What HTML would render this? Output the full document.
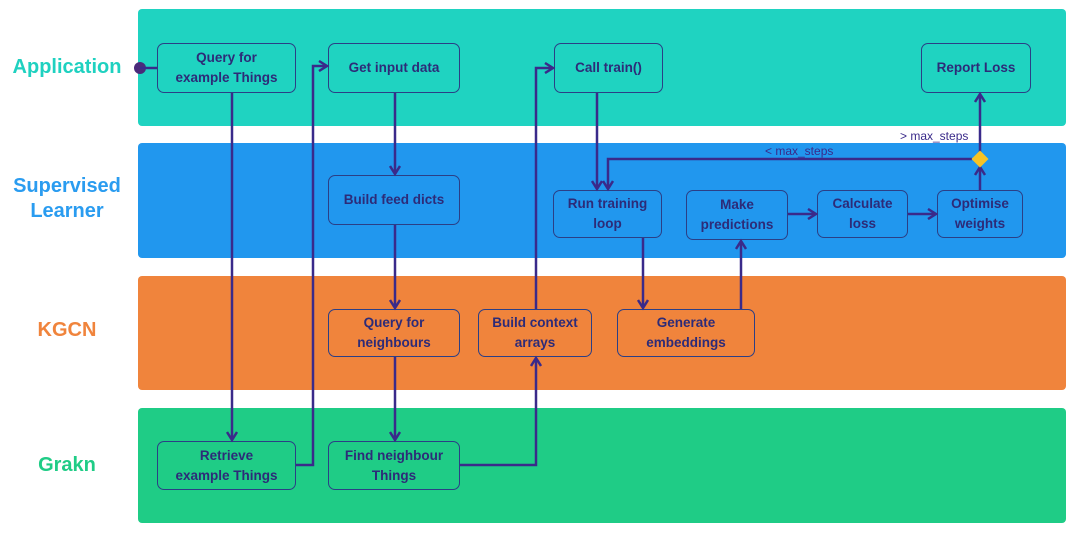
<!DOCTYPE html>
<html><head><style>
body{margin:0;width:1080px;height:536px;background:#fff;position:relative;overflow:hidden;font-family:"Liberation Sans",sans-serif}
.lane{position:absolute;left:138px;width:928px;border-radius:4px}
.lab{position:absolute;font-weight:bold;font-size:20px;text-align:center;width:130px;left:2px;line-height:25px}
.b{position:absolute;border:1.5px solid #2b3f86;border-radius:7px;box-sizing:border-box;display:flex;align-items:center;justify-content:center;text-align:center;color:#2d2b78;font-weight:bold;font-size:13.5px;line-height:20px}
svg{position:absolute;left:0;top:0}
</style></head><body>
<div class="lane" style="top:9px;height:117px;background:#1fd3c1"></div>
<div class="lane" style="top:143px;height:115px;background:#2197ee"></div>
<div class="lane" style="top:276px;height:114px;background:#f0843c"></div>
<div class="lane" style="top:408px;height:115px;background:#1fcc86"></div>
<div class="lab" style="top:55px;color:#1fd1c0">Application</div>
<div class="lab" style="top:174px;color:#2a9cf0">Supervised<br>Learner</div>
<div class="lab" style="top:318px;color:#f0843c">KGCN</div>
<div class="lab" style="top:453px;color:#1fcc86">Grakn</div>

<div class="b" style="left:157px;top:43px;width:139px;height:50px">Query for<br>example Things</div>
<div class="b" style="left:328px;top:43px;width:132px;height:50px">Get input data</div>
<div class="b" style="left:554px;top:43px;width:109px;height:50px">Call train()</div>
<div class="b" style="left:921px;top:43px;width:110px;height:50px">Report Loss</div>
<div class="b" style="left:328px;top:175px;width:132px;height:50px">Build feed dicts</div>
<div class="b" style="left:553px;top:190px;width:109px;height:48px">Run training<br>loop</div>
<div class="b" style="left:686px;top:190px;width:102px;height:50px">Make<br>predictions</div>
<div class="b" style="left:817px;top:190px;width:91px;height:48px">Calculate<br>loss</div>
<div class="b" style="left:937px;top:190px;width:86px;height:48px">Optimise<br>weights</div>
<div class="b" style="left:328px;top:309px;width:132px;height:48px">Query for<br>neighbours</div>
<div class="b" style="left:478px;top:309px;width:114px;height:48px">Build context<br>arrays</div>
<div class="b" style="left:617px;top:309px;width:138px;height:48px">Generate<br>embeddings</div>
<div class="b" style="left:157px;top:441px;width:139px;height:49px">Retrieve<br>example Things</div>
<div class="b" style="left:328px;top:441px;width:132px;height:49px">Find neighbour<br>Things</div>

<svg width="1080" height="536">
<defs><marker id="a" markerWidth="12" markerHeight="12" refX="9" refY="6" orient="auto" markerUnits="userSpaceOnUse"><path d="M1,1 L9,6 L1,11" fill="none" stroke="#3a2a8a" stroke-width="2.5"/></marker></defs>
<g fill="none" stroke="#3a2a8a" stroke-width="2.5">
<circle cx="140" cy="68" r="6" fill="#4a2a7a" stroke="none"/>
<path d="M140 68H157"/>
<path d="M232 93V440" marker-end="url(#a)"/>
<path d="M296 465H313V66H327" marker-end="url(#a)"/>
<path d="M395 93V174" marker-end="url(#a)"/>
<path d="M395 225V308" marker-end="url(#a)"/>
<path d="M395 357V440" marker-end="url(#a)"/>
<path d="M460 465H536V358" marker-end="url(#a)"/>
<path d="M536 309V68H553" marker-end="url(#a)"/>
<path d="M597 93V189" marker-end="url(#a)"/>
<path d="M643 238V308" marker-end="url(#a)"/>
<path d="M741 309V241" marker-end="url(#a)"/>
<path d="M788 214H816" marker-end="url(#a)"/>
<path d="M908 214H936" marker-end="url(#a)"/>
<path d="M980 190V167" marker-end="url(#a)"/>
<path d="M980 152V94" marker-end="url(#a)"/>
<path d="M972 159H608V189" marker-end="url(#a)"/>
</g>
<rect x="974" y="153" width="12" height="12" fill="#f7c325" transform="rotate(45 980 159)"/>
<text x="900" y="140" font-size="12" fill="#3a2a8a" font-family="Liberation Sans">&gt; max_steps</text>
<text x="765" y="155" font-size="12" fill="#3a2a8a" font-family="Liberation Sans">&lt; max_steps</text>
</svg>
</body></html>
